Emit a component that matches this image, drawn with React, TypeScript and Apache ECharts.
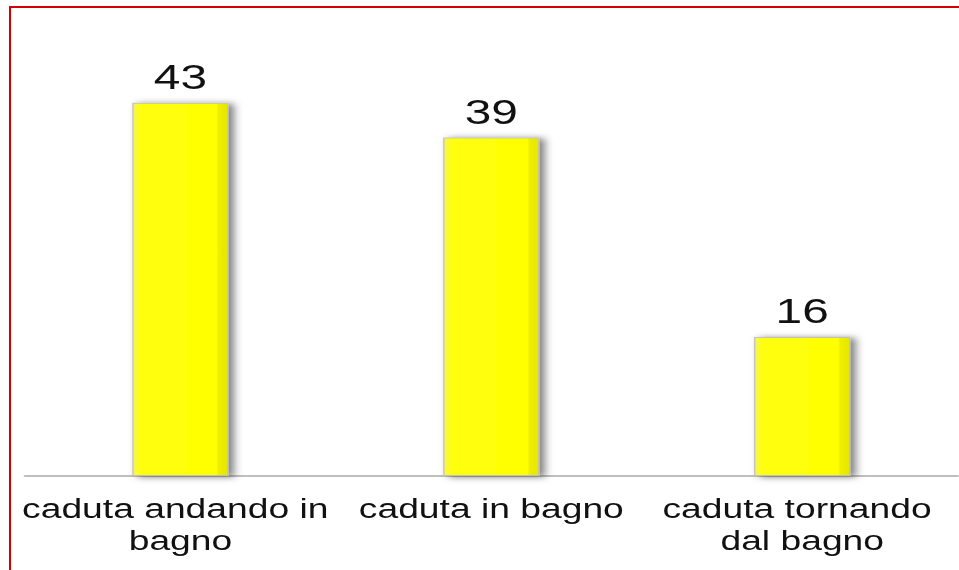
import React, { useEffect, useRef } from "react";
import * as echarts from "echarts";

const categories = ["caduta andando in bagno", "caduta in bagno", "caduta tornando dal bagno"];
const values = [43, 39, 16];

const SX = 1.33;
const W = 959;
const H = 570;

export default function App() {
  const ref = useRef<HTMLDivElement>(null);
  useEffect(() => {
    if (!ref.current) return;
    const chart = echarts.init(ref.current, null, { renderer: "svg" });
    const innerW = chart.getWidth();
    const targetRight = W / SX;
    chart.setOption({
      animation: false,
      backgroundColor: "transparent",
      grid: {
        left: 25 / SX,
        right: innerW - targetRight,
        top: 42,
        bottom: 94,
        containLabel: false,
      },
      xAxis: {
        type: "category",
        data: categories,
        axisLine: { show: true, lineStyle: { color: "#BFBFBF", width: 2 } },
        axisTick: { show: false },
        axisLabel: {
          interval: 0,
          margin: 16,
          width: 240,
          overflow: "break",
          fontFamily: "Liberation Sans, Arial, sans-serif",
          fontSize: 28,
          lineHeight: 32,
          color: "#111111",
        },
      },
      yAxis: {
        type: "value",
        min: 0,
        max: 50,
        show: false,
        splitLine: { show: false },
      },
      series: [
        {
          type: "bar",
          data: values,
          barWidth: "31%",
          itemStyle: {
            color: new echarts.graphic.LinearGradient(0, 0, 1, 0, [
              { offset: 0, color: "#F4F45C" },
              { offset: 0.08, color: "#FFFF10" },
              { offset: 0.88, color: "#FFFF00" },
              { offset: 0.9, color: "#EEEE00" },
              { offset: 1, color: "#E6E600" },
            ]),
            borderColor: "rgba(190,190,190,0.9)",
            borderWidth: 1,
            shadowColor: "rgba(0,0,0,0.5)",
            shadowBlur: 6,
            shadowOffsetX: 4,
            shadowOffsetY: 1,
          },
          label: {
            show: true,
            position: "top",
            distance: 8,
            fontFamily: "Liberation Sans, Arial, sans-serif",
            fontSize: 36,
            color: "#111111",
          },
        },
      ],
    });
    return () => chart.dispose();
  }, []);
  return (
    <div
      style={{
        position: "absolute",
        left: 0,
        top: 0,
        width: W,
        height: H,
        overflow: "hidden",
        background: "#ffffff",
      }}
    >
      <div
        style={{
          position: "absolute",
          left: 9,
          top: 6,
          width: 1000,
          height: 700,
          border: "2px solid #D40000",
          boxSizing: "border-box",
        }}
      />
      <div
        ref={ref}
        style={{
          position: "absolute",
          left: 0,
          top: 0,
          width: Math.ceil(W / SX) + 4,
          height: H,
          transform: `scaleX(${SX})`,
          transformOrigin: "0 0",
        }}
      />
    </div>
  );
}
